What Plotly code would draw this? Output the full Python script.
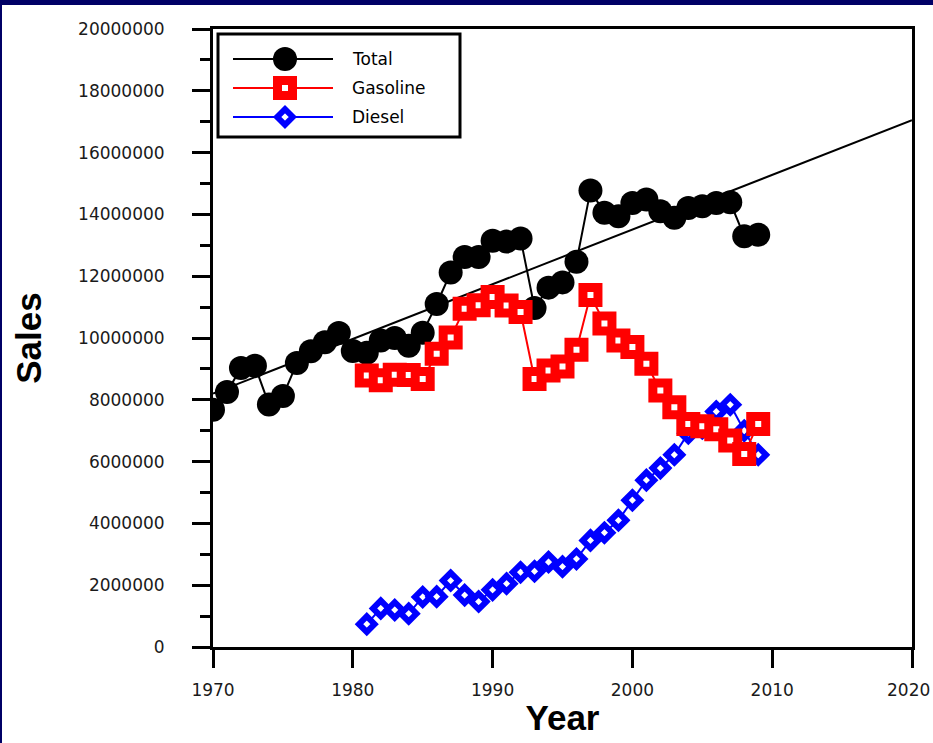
import plotly.graph_objects as go

# ---- data (sales by year) ----
years_total = list(range(1970, 2010))
total_sales = [7.68e6, 8.25e6, 9.03e6, 9.10e6, 7.85e6, 8.12e6, 9.19e6, 9.57e6, 9.86e6, 10.16e6,
               9.58e6, 9.52e6, 9.92e6, 10.00e6, 9.75e6, 10.17e6, 11.10e6, 12.12e6, 12.62e6, 12.62e6,
               13.15e6, 13.12e6, 13.22e6, 10.97e6, 11.63e6, 11.80e6, 12.47e6, 14.77e6, 14.05e6, 13.94e6,
               14.37e6, 14.48e6, 14.10e6, 13.89e6, 14.21e6, 14.26e6, 14.37e6, 14.39e6, 13.29e6, 13.34e6]

years_fuel = list(range(1981, 2010))
gasoline_sales = [8.79e6, 8.63e6, 8.81e6, 8.80e6, 8.67e6, 9.49e6, 10.02e6, 10.95e6, 11.06e6, 11.33e6,
                  11.05e6, 10.84e6, 8.67e6, 8.95e6, 9.08e6, 9.62e6, 11.39e6, 10.47e6, 9.92e6, 9.71e6,
                  9.17e6, 8.30e6, 7.76e6, 7.22e6, 7.14e6, 7.05e6, 6.68e6, 6.25e6, 7.22e6]
diesel_sales = [0.74e6, 1.25e6, 1.20e6, 1.08e6, 1.62e6, 1.63e6, 2.15e6, 1.68e6, 1.47e6, 1.85e6,
                2.05e6, 2.42e6, 2.45e6, 2.75e6, 2.60e6, 2.85e6, 3.45e6, 3.70e6, 4.10e6, 4.75e6,
                5.40e6, 5.79e6, 6.22e6, 6.92e6, 7.08e6, 7.62e6, 7.84e6, 7.00e6, 6.22e6]

# straight trend line for total sales
trend_years = [1970, 2020]
trend_sales = [8.2e6, 17.05e6]

x_ticks = [1970, 1980, 1990, 2000, 2010, 2020]
series_names = ["Total", "Gasoline", "Diesel"]

# ---- page geometry ----
W, H = 933, 743
ML, MR, MT, MB = 213, 21, 29, 96
PW, PH = W - ML - MR, H - MT - MB
NAVY = "#000066"
Y_TICK_FONT = dict(family="DejaVu Sans", size=17, color="#1a1a1a")
X_TICK_FONT = dict(family="DejaVu Sans", size=17, color="#1a1a1a")


def px(x):
    """pixel column -> paper x"""
    return (x - ML) / PW


def py(y):
    """pixel row -> paper y"""
    return (H - MB - y) / PH


total_marker = dict(symbol="circle", size=24, color="black", line=dict(width=0))
gas_marker = dict(symbol="square", size=15, color="white", line=dict(color="#ff0000", width=9))
diesel_marker = dict(symbol="diamond", size=12, color="white", line=dict(color="#0000ff", width=6))

fig = go.Figure()

fig.add_trace(go.Scatter(x=years_total, y=total_sales, mode="lines+markers", name="Total",
                         line=dict(color="black", width=2), marker=total_marker))
fig.add_trace(go.Scatter(x=trend_years, y=trend_sales, mode="lines", name="Trend",
                         line=dict(color="black", width=2)))
fig.add_trace(go.Scatter(x=years_fuel, y=diesel_sales, mode="lines+markers", name="Diesel",
                         line=dict(color="#0000ff", width=2), marker=diesel_marker))
fig.add_trace(go.Scatter(x=years_fuel, y=gasoline_sales, mode="lines+markers", name="Gasoline",
                         line=dict(color="#ff0000", width=2), marker=gas_marker))

# ---- hand-built legend box ----
legend_rows = [59, 88, 117]
legend_markers = [total_marker, gas_marker, diesel_marker]
legend_colors = ["black", "#ff0000", "#0000ff"]

shapes = [
    dict(type="rect", xref="paper", yref="paper", layer="below",
         x0=px(218), x1=px(460), y0=py(137), y1=py(34),
         line=dict(color="black", width=3), fillcolor="white"),
]
annotations = []
for row, name, mk, col in zip(legend_rows, series_names, legend_markers, legend_colors):
    shapes.append(dict(type="line", xref="paper", yref="paper", layer="below",
                       x0=px(233), x1=px(333), y0=py(row), y1=py(row),
                       line=dict(color=col, width=2)))
    fig.add_trace(go.Scatter(x=[px(285)], y=[py(row)], mode="markers", marker=mk,
                             xaxis="x2", yaxis="y2", cliponaxis=False,
                             hoverinfo="skip", showlegend=False))
    annotations.append(dict(text=name, xref="paper", yref="paper", x=px(350), y=py(row),
                            xanchor="left", yanchor="middle", showarrow=False,
                            font=dict(family="DejaVu Sans", size=17, color="black")))

# the last year label sits against the right page edge, so it is pinned there
# instead of being centred under its tick (which would spill past the page)
x_labels = [str(v) for v in x_ticks[:-1]] + [""]
annotations.append(dict(text=str(x_ticks[-1]), xref="paper", yref="paper",
                        x=px(W - 1), y=py(690), xanchor="right", yanchor="middle",
                        showarrow=False, font=X_TICK_FONT))

# navy frame strips along the top and left edges of the page
shapes.append(dict(type="rect", xref="paper", yref="paper", layer="above",
                   x0=px(0), x1=px(W), y0=py(5), y1=py(0),
                   fillcolor=NAVY, line=dict(width=0)))
shapes.append(dict(type="rect", xref="paper", yref="paper", layer="above",
                   x0=px(0), x1=px(2), y0=py(H), y1=py(0),
                   fillcolor=NAVY, line=dict(width=0)))

fig.update_layout(
    width=W, height=H,
    margin=dict(l=ML, r=MR, t=MT, b=MB, pad=0),
    paper_bgcolor="white", plot_bgcolor="white",
    showlegend=False,
    shapes=shapes,
    annotations=annotations,
    xaxis=dict(
        range=[1970, 2020], tickvals=x_ticks, ticktext=x_labels,
        ticks="outside", ticklen=18, tickwidth=3, tickcolor="black",
        showline=True, linewidth=3, linecolor="black", mirror=True,
        showgrid=False, zeroline=False, tickfont=X_TICK_FONT, ticklabelstandoff=8,
        title=dict(text="Year", standoff=7,
                   font=dict(family="Liberation Sans", size=35, color="black", weight="bold")),
    ),
    yaxis=dict(
        range=[0, 20000000], dtick=2000000, tickformat="d",
        ticks="outside", ticklen=18, tickwidth=3, tickcolor="black",
        minor=dict(ticks="outside", ticklen=10, tickwidth=3, tickcolor="black", dtick=1000000),
        showline=True, linewidth=3, linecolor="black", mirror=True,
        showgrid=False, zeroline=False, tickfont=Y_TICK_FONT, ticklabelstandoff=24,
        title=dict(text="Sales", standoff=26,
                   font=dict(family="Liberation Sans", size=35, color="black", weight="bold")),
    ),
    xaxis2=dict(overlaying="x", range=[0, 1], visible=False),
    yaxis2=dict(overlaying="y", range=[0, 1], visible=False),
)

fig.write_html("out.html")
